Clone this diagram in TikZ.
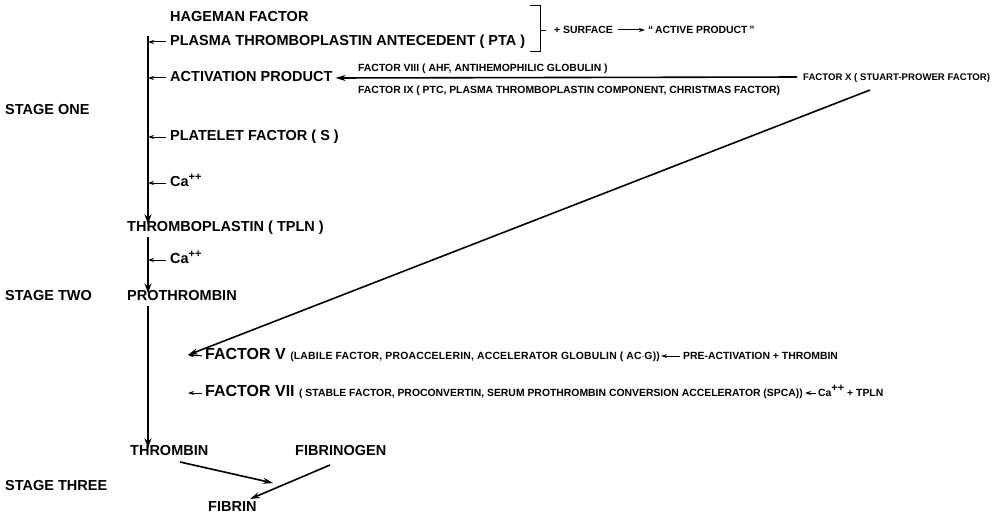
\documentclass[tikz,border=0pt]{standalone}
\usepackage{fontspec}
\setmainfont{Liberation Sans}
\usetikzlibrary{arrows.meta}
\newcommand{\sml}{\fontsize{10.4}{12}\selectfont\bfseries}
\newcommand{\smlw}{\fontsize{10.4}{12}\selectfont\bfseries\addfontfeature{LetterSpace=2}}
\newcommand{\caplus}{Ca\raisebox{0.45em}{\fontsize{11}{12}\selectfont\bfseries ++}}
\begin{document}
\begin{tikzpicture}[x=1pt,y=-1pt,
  main/.style={anchor=west,inner sep=0pt,font=\fontsize{14.5}{17}\selectfont\bfseries,text height=0.72em,text depth=0pt},
  big/.style={main,font=\fontsize{16}{18}\selectfont\bfseries},
  small/.style={anchor=west,inner sep=0pt,font=\sml,text height=0.72em,text depth=0pt},
  flow/.style={line width=1.8pt,-{Stealth[length=10pt,width=7pt]}},
  side/.style={line width=1pt,-{Stealth[length=6pt,width=4pt]}},
  long/.style={line width=1.6pt,-{Stealth[length=10pt,width=6pt]}}]
\useasboundingbox (0,0) rectangle (1000,516);
% stage labels
\node[main] (s1) at (5,111) {STAGE ONE};
\node[main] (s2) at (5,297) {STAGE TWO};
\node[main] (s3) at (5,487) {STAGE THREE};
% stage one
\node[main] (hag) at (170,18) {HAGEMAN FACTOR};
\node[main] (pta) at (170,42) {PLASMA THROMBOPLASTIN ANTECEDENT ( PTA )};
\node[main] (act) at (170,78) {ACTIVATION PRODUCT};
\node[main] (plt) at (170,137) {PLATELET FACTOR ( S )};
\node[main] (ca1) at (170,183) {\caplus};
\node[main] (tpln) at (127,228) {THROMBOPLASTIN ( TPLN )};
\node[main] (ca2) at (170,260) {\caplus};
\node[main] (pro) at (127,297) {PROTHROMBIN};
\coordinate (ltop) at (148,36);
\draw[flow] (ltop) -- (tpln.north -| ltop);
\foreach \n in {pta,act,plt,ca1,ca2}
  \draw[side,shorten <=4pt] (\n.west) -- (\n.west -| ltop);
\draw[flow] ([yshift=-5pt]tpln.south -| ltop) -- (pro.north -| ltop);
% bracket
\draw[line width=1pt] (530,6) -- (540,6) -- (540,52) -- (530,52);
\draw[line width=1pt] (540,31) -- (546,31);
\node[small] (surf) at (554,30) {+ SURFACE};
\node[small] (actp) at (648,30) {\char"201C\,ACTIVE PRODUCT\,\char"201D};
\draw[side,shorten <=5pt,shorten >=3pt] (surf.east) -- (actp.west);
% factors VIII IX X
\node[small] (fviii) at (358,68) {FACTOR VIII ( AHF, ANTIHEMOPHILIC GLOBULIN )};
\node[small] (fix) at (358,90) {FACTOR IX ( PTC, PLASMA THROMBOPLASTIN COMPONENT, CHRISTMAS FACTOR)};
\node[small,font=\fontsize{9.6}{11}\selectfont\bfseries] (fx) at (803,77) {FACTOR X ( STUART-PROWER FACTOR)};
\draw[long,shorten >=3pt,shorten <=6pt] (fx.west) -- (act.east);
% stage two
\coordinate (fvtip) at (188,355);
\coordinate (fviitip) at (188,393);
\node[big] (fv) at (205,356) {FACTOR V {\smlw(LABILE FACTOR, PROACCELERIN, ACCELERATOR GLOBULIN ( AC$\cdot$G))}};
\node[small] (pre) at (683,356) {PRE-ACTIVATION + THROMBIN};
\node[big] (fvii) at (205,393) {FACTOR VII {\sml( STABLE FACTOR, PROCONVERTIN, SERUM PROTHROMBIN CONVERSION ACCELERATOR (SPCA))}};
\node[small] (catp) at ([xshift=15pt]fvii.east) {\caplus{} + TPLN};
\coordinate (fxlow) at (870,90);
\draw[long] (fxlow) -- (fvtip);
\draw[side,shorten <=3pt] (fv.west) -- (fvtip);
\draw[side,shorten <=3pt] (fvii.west) -- (fviitip);
\draw[side,shorten <=3pt,shorten >=1pt] (pre.west) -- (fv.east);
\draw[side,shorten <=2pt,shorten >=2pt] (catp.west) -- (fvii.east);
% stage three
\node[main] (thr) at (130,452) {THROMBIN};
\node[main] (fbg) at (295,452) {FIBRINOGEN};
\node[main] (fib) at (208,508) {FIBRIN};
\draw[flow] ([yshift=-5pt]pro.south -| ltop) -- (thr.north -| ltop);
\coordinate (meet) at (273,483);
\draw[long] (180,462) coordinate (thrs) -- (meet);
\draw[long] (330,465) coordinate (fbgs) -- (250,499) coordinate (fibt);
\end{tikzpicture}
\end{document}
